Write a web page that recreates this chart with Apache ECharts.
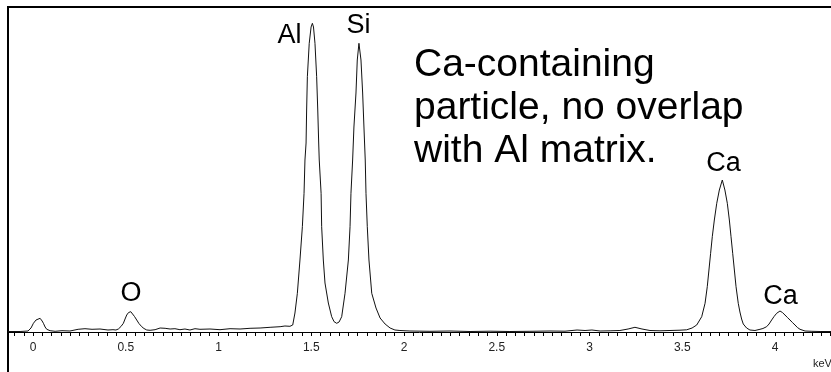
<!DOCTYPE html>
<html>
<head>
<meta charset="utf-8">
<title>EDS spectrum</title>
<script src="https://cdn.jsdelivr.net/npm/echarts@6/dist/echarts.min.js"></script>
<style>
  html, body { margin: 0; padding: 0; background: #fff; }
  #chart { width: 831px; height: 372px; }
</style>
</head>
<body>
<div id="chart"></div>
<script>
// energy axis (keV) and counts
const energy = [
  -0.135, -0.070, -0.027, -0.011, 0.002, 0.016, 0.038, 0.049, 0.056, 0.065,
  0.074, 0.092, 0.119, 0.156, 0.199, 0.243, 0.280, 0.318, 0.361, 0.404,
  0.431, 0.447, 0.460, 0.474, 0.487, 0.496, 0.505, 0.515, 0.527, 0.536,
  0.547, 0.559, 0.571, 0.586, 0.598, 0.613, 0.631, 0.658, 0.685, 0.712,
  0.739, 0.765, 0.792, 0.819, 0.846, 0.873, 0.900, 0.954, 1.008, 1.062,
  1.116, 1.170, 1.224, 1.278, 1.332, 1.358, 1.385, 1.400, 1.412, 1.425,
  1.439, 1.452, 1.461, 1.466, 1.472, 1.475, 1.479, 1.489, 1.499, 1.506,
  1.512, 1.520, 1.529, 1.535, 1.540, 1.543, 1.553, 1.556, 1.565, 1.574,
  1.592, 1.610, 1.623, 1.637, 1.650, 1.664, 1.682, 1.700, 1.709, 1.714,
  1.723, 1.730, 1.741, 1.748, 1.757, 1.768, 1.777, 1.784, 1.791, 1.795,
  1.802, 1.811, 1.826, 1.849, 1.871, 1.898, 1.925, 1.951, 1.978, 2.032,
  2.140, 2.248, 2.356, 2.464, 2.571, 2.679, 2.787, 2.868, 2.933, 2.976,
  3.013, 3.057, 3.111, 3.164, 3.208, 3.245, 3.283, 3.326, 3.380, 3.434,
  3.488, 3.524, 3.533, 3.553, 3.578, 3.605, 3.623, 3.635, 3.644, 3.653,
  3.662, 3.673, 3.686, 3.700, 3.716, 3.730, 3.743, 3.754, 3.763, 3.772,
  3.781, 3.790, 3.802, 3.811, 3.820, 3.829, 3.847, 3.865, 3.892, 3.919,
  3.935, 3.955, 3.968, 3.982, 3.995, 4.009, 4.027, 4.040, 4.054, 4.067,
  4.081, 4.094, 4.108, 4.121, 4.135, 4.162, 4.199, 4.243, 4.302
];
const counts = [
  5, 5, 10, 40, 87, 120, 137, 110, 87, 50,
  27, 13, 7, 13, 10, 27, 33, 27, 30, 20,
  23, 20, 30, 55, 87, 130, 170, 195, 203, 190,
  155, 120, 85, 53, 35, 20, 17, 23, 40, 37,
  30, 33, 23, 30, 20, 33, 27, 30, 23, 33,
  30, 37, 40, 47, 53, 60, 57, 70, 190, 387,
  720, 1053, 1387, 1720, 1890, 2220, 2553, 2887, 3050, 3087,
  3050, 2887, 2553, 2220, 1890, 1720, 1387, 1053, 720, 490,
  290, 153, 103, 87, 100, 153, 387, 720, 1053, 1387,
  1720, 2050, 2390, 2720, 2887, 2720, 2390, 2050, 1720, 1387,
  1053, 720, 387, 240, 140, 80, 40, 20, 15, 10,
  7, 10, 5, 8, 5, 7, 10, 8, 20, 15,
  20, 10, 12, 15, 30, 47, 30, 15, 12, 15,
  18, 22, 25, 40, 70, 153, 287, 453, 620, 787,
  953, 1120, 1287, 1420, 1520, 1420, 1287, 1120, 953, 787,
  620, 453, 287, 200, 130, 80, 40, 20, 15, 27,
  35, 53, 80, 120, 155, 187, 210, 195, 170, 145,
  120, 95, 70, 45, 27, 10, 7, 5, 5
];

// peak labels: name, energy, counts where the label sits
const peakNames = ['O', 'Al', 'Si', 'Ca', 'Ca'];
const peakLabelX = [0.528, 1.383, 1.755, 3.722, 4.030];
const peakLabelY = [380, 2960, 3060, 1680, 350];

const tickLabels = [0, 0.5, 1, 1.5, 2, 2.5, 3, 3.5, 4];
const noteLines = ['Ca-containing', 'particle, no overlap', 'with Al matrix.'];

const minorTicks = [];
for (let i = -2; i <= 86; i++) minorTicks.push(+(i * 0.05).toFixed(2));

const FONT = '"Liberation Sans", Arial, sans-serif';

const chart = echarts.init(document.getElementById('chart'), null, { renderer: 'canvas' });

const option = {
  animation: false,
  backgroundColor: '#fff',
  grid: { left: 8, right: 0, top: 7, bottom: 40, containLabel: false },
  xAxis: {
    type: 'value',
    min: -0.135,
    max: 4.302,
    axisLine: { onZero: false, lineStyle: { color: '#000', width: 1 } },
    axisTick: { show: true, length: 4, customValues: minorTicks, lineStyle: { color: '#000' } },
    axisLabel: {
      customValues: tickLabels,
      margin: 10,
      color: '#222',
      fontSize: 12,
      fontFamily: FONT,
      formatter: (v) => String(v)
    },
    splitLine: { show: false }
  },
  yAxis: {
    type: 'value',
    min: 0,
    max: 3250,
    show: false
  },
  series: [
    {
      type: 'line',
      data: energy.map((e, i) => [e, counts[i]]),
      showSymbol: false,
      smooth: false,
      lineStyle: { color: '#111', width: 1 },
      markPoint: {
        symbol: 'circle',
        symbolSize: 1,
        itemStyle: { color: 'rgba(0,0,0,0)' },
        label: {
          show: true,
          position: 'inside',
          formatter: '{b}',
          color: '#000',
          fontSize: 27,
          fontFamily: FONT
        },
        data: peakNames.map((n, i) => ({ name: n, coord: [peakLabelX[i], peakLabelY[i]] }))
      }
    }
  ],
  graphic: [
    // frame: top and left rules
    { type: 'line', shape: { x1: 7, y1: 7, x2: 831, y2: 7 }, style: { stroke: '#000', lineWidth: 2 } },
    { type: 'line', shape: { x1: 8, y1: 6, x2: 8, y2: 372 }, style: { stroke: '#000', lineWidth: 2 } },
    {
      type: 'text',
      left: 414,
      top: 44,
      style: {
        text: noteLines.join('\n'),
        font: '39px ' + FONT,
        lineHeight: 43,
        fill: '#000'
      }
    },
    {
      type: 'text',
      left: 813,
      top: 358,
      style: { text: 'keV', font: '11px ' + FONT, fill: '#222' }
    }
  ]
};

chart.setOption(option);
</script>
</body>
</html>
